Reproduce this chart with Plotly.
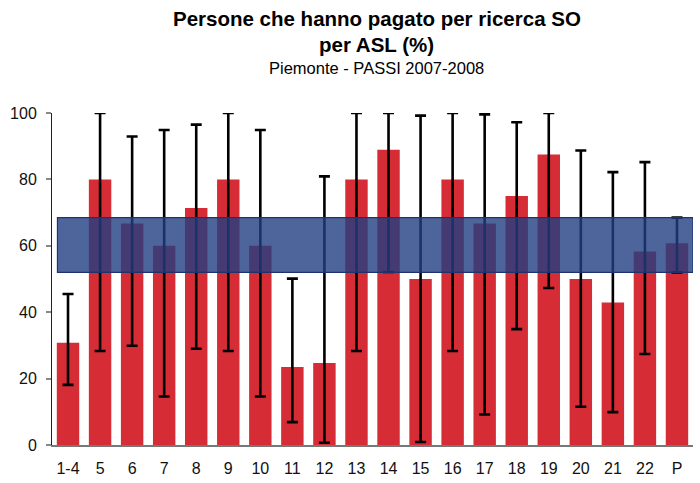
import plotly.graph_objects as go

# ASL codes and the regional total (P)
asl = ["1-4", "5", "6", "7", "8", "9", "10", "11", "12", "13",
       "14", "15", "16", "17", "18", "19", "20", "21", "22", "P"]
# percentage who paid for the test
pct = [30.8, 80.0, 66.7, 60.0, 71.4, 80.0, 60.0, 23.5, 24.7, 80.0,
       88.9, 50.0, 80.0, 66.7, 75.0, 87.5, 50.0, 42.9, 58.3, 60.8]
# 95% confidence interval bounds
ci_low = [18.1, 28.3, 29.9, 14.6, 29.0, 28.3, 14.6, 6.9, 0.7, 28.3,
          52.1, 0.9, 28.3, 9.2, 34.9, 47.3, 11.5, 9.9, 27.4, 52.0]
ci_high = [45.5, 100.0, 92.9, 94.9, 96.5, 100.0, 94.9, 50.1, 80.9, 100.0,
           100.0, 99.2, 100.0, 99.6, 97.2, 100.0, 88.7, 82.2, 85.2, 68.5]

# regional confidence band
band_low = ci_low[-1]
band_high = ci_high[-1]

err_plus = [h - v for h, v in zip(ci_high, pct)]
err_minus = [v - l for v, l in zip(pct, ci_low)]

fig = go.Figure()
fig.add_trace(go.Bar(
    x=asl, y=pct,
    marker=dict(color="rgb(213,44,54)", line=dict(width=0)),
    width=0.7,
    cliponaxis=False,
    error_y=dict(type="data", symmetric=False, array=err_plus,
                 arrayminus=err_minus, color="black", thickness=2.6, width=5.5),
))

fig.add_shape(type="rect", xref="x", yref="y",
              x0=-0.33, x1=19.5, y0=band_low, y1=band_high,
              fillcolor="rgba(32,62,130,0.80)",
              line=dict(color="rgb(30,50,110)", width=1.2),
              layer="above")

title_lines = [
    ("<b>Persone che hanno pagato per ricerca SO</b>", 18, 20.5),
    ("<b>per ASL (%)</b>", 44, 20.5),
    ("Piemonte - PASSI 2007-2008", 68, 16.5),
]
for text, ypx, size in title_lines:
    fig.add_annotation(text=text, xref="paper", yref="paper",
                       x=(377 - 52) / 641, y=1 + (113 - ypx) / 332,
                       xanchor="center", yanchor="middle", showarrow=False,
                       font=dict(size=size, color="black"))

fig.update_layout(
    width=700, height=483,
    margin=dict(l=52, r=7, t=113, b=38),
    paper_bgcolor="white", plot_bgcolor="white",
    showlegend=False,
    font=dict(family="Liberation Sans, Arial, sans-serif", size=16, color="#111"),
    xaxis=dict(
        type="category", range=[-0.5, 19.5],
        showline=True, linecolor="#777", linewidth=1.5,
        ticks="", showgrid=False, tickfont=dict(size=16),
        ticklabelstandoff=8,
    ),
    yaxis=dict(
        range=[0, 100], tickvals=[0, 20, 40, 60, 80, 100],
        showline=True, linecolor="#222", linewidth=1,
        ticks="outside", ticklen=5, tickcolor="#888", tickwidth=1.5,
        showgrid=False, zeroline=False, tickfont=dict(size=16),
        ticklabelstandoff=6,
    ),
)

fig.write_html("out.html")
